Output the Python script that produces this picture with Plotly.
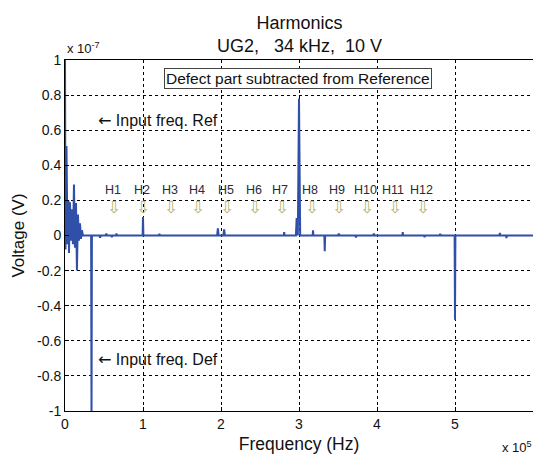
import plotly.graph_objects as go

# Spectrum samples: frequency (Hz) and voltage (in units of 1e-7 V)
freq_hz = [0, 640, 1900, 3200, 4500, 5100, 6400, 7700, 9000, 10200, 11500, 12800,
           14100, 15300, 16600, 17900, 19200, 20500, 21700, 23000,
           33500, 34000, 34500, 44000, 45000, 46000, 52000, 53000, 54000,
           59000, 60000, 61000, 65500, 66000, 66500,
           99500, 100000, 100500, 120000, 121000, 122000,
           195000, 196000, 197000, 203000, 204000, 205000,
           280500, 281000, 281500, 296000, 297000, 298500, 300000, 301500,
           317500, 318000, 318500, 332500, 333000, 333500,
           350000, 351000, 352000, 372000, 373000, 374000, 395000, 396000, 397000,
           432500, 433000, 433500, 460000, 461000, 462000, 480000, 481000, 482000,
           499500, 500000, 500500,
           557000, 557500, 558000, 565500, 566000, 566500, 600000]
volt_e7 = [1.05, -0.08, 0.51, -0.05, 0.20, -0.10, 0.19, -0.03, 0.15, -0.05, 0.29, -0.07,
           0.185, -0.20, 0.12, -0.03, 0.07, -0.02, 0.03, 0.0,
           0.0, -1.05, 0.0, 0.0, -0.012, 0.0, 0.0, 0.010, 0.0,
           0.0, -0.008, 0.0, 0.0, 0.012, 0.0,
           0.0, 0.105, 0.0, 0.0, 0.008, 0.0,
           0.0, 0.040, 0.0, 0.0, 0.035, 0.0,
           0.0, 0.020, 0.0, 0.0, 0.10, 0.0, 0.78, 0.0,
           0.0, 0.030, 0.0, 0.0, -0.09, 0.0,
           0.0, 0.010, 0.0, 0.0, -0.010, 0.0, 0.0, 0.010, 0.0,
           0.0, 0.020, 0.0, 0.0, -0.008, 0.0, 0.0, 0.008, 0.0,
           0.0, -0.48, 0.0,
           0.0, 0.015, 0.0, 0.0, -0.015, 0.0, 0.0]

x_ticks = [0, 1, 2, 3, 4, 5, 6]
x_ticklabels = ["0", "1", "2", "3", "4", "5", "6"]
y_ticks = [1, 0.8, 0.6, 0.4, 0.2, 0, -0.2, -0.4, -0.6, -0.8, -1]
y_ticklabels = ["1", "0.8", "0.6", "0.4", "0.2", "0", "-0.2", "-0.4", "-0.6", "-0.8", "-1"]

harm_labels = ["H1", "H2", "H3", "H4", "H5", "H6", "H7", "H8", "H9", "H10", "H11", "H12"]
harm_pos = [0.614, 0.985, 1.343, 1.688, 2.059, 2.417, 2.762, 3.146, 3.491, 3.849, 4.207, 4.565]

FONT = "Liberation Sans, Arial, sans-serif"
ARROWFONT = "DejaVu Sans"

x_scaled = [f / 1e5 for f in freq_hz]

fig = go.Figure()
fig.add_trace(go.Scatter(x=x_scaled, y=volt_e7, mode="lines",
                         line=dict(color="#2f4fa8", width=2), hoverinfo="skip",
                         showlegend=False))

annotations = []
for lab, xp in zip(harm_labels, harm_pos):
    annotations.append(dict(x=xp, y=0.26, xref="x", yref="y", text=lab, showarrow=False,
                            font=dict(family=FONT, size=12.5, color="#2a2a3a")))
    annotations.append(dict(x=xp + 0.02, y=0.165, xref="x", yref="y", text="\u21e9",
                            showarrow=False,
                            font=dict(family=ARROWFONT, size=17, color="#b8b46a")))

annotations += [
    dict(x=2.99, y=0.895, xref="x", yref="y",
         text="Defect part subtracted from Reference", showarrow=False,
         font=dict(family=FONT, size=15.5, color="#111"),
         bordercolor="#444", borderwidth=1, borderpad=1, bgcolor="white"),
    dict(x=0.4, y=0.655, xref="x", yref="y", xanchor="left",
         text="<span style='font-family:DejaVu Sans'>\u2190</span> Input freq. Ref",
         showarrow=False, font=dict(family=FONT, size=16, color="#111")),
    dict(x=0.4, y=-0.705, xref="x", yref="y", xanchor="left",
         text="<span style='font-family:DejaVu Sans'>\u2190</span> Input freq. Def",
         showarrow=False, font=dict(family=FONT, size=16, color="#111")),
    dict(x=0.0, y=1.0, xref="paper", yref="paper", xanchor="left", yanchor="bottom",
         yshift=2, text="x 10<sup>-7</sup>", showarrow=False,
         font=dict(family=FONT, size=13, color="#111")),
    dict(x=(500 - 65) / (533 - 65), y=-(447 - 411) / (411 - 60),
         xref="paper", yref="paper", showarrow=False,
         text="x 10<sup>5</sup>", font=dict(family=FONT, size=13, color="#111"),
         xanchor="left", yanchor="middle"),
]

fig.update_layout(
    width=533, height=459,
    margin=dict(l=65, r=0, t=60, b=48, autoexpand=False),
    paper_bgcolor="white", plot_bgcolor="white",
    font=dict(family=FONT, size=12, color="#111"),
    title=dict(text="Harmonics<br>UG2,\u00a0\u00a0 34 kHz,\u00a0 10 V",
               x=0.562, xanchor="center", y=0.937, yanchor="middle",
               font=dict(family=FONT, size=18, color="#111")),
    annotations=annotations,
    xaxis=dict(range=[0, 6], tickvals=x_ticks, ticktext=x_ticklabels, automargin=False,
               showgrid=True, gridcolor="black", griddash="3px,3px", gridwidth=1,
               zeroline=False, showline=True, linecolor="black", linewidth=1,
               mirror=True, ticks="inside", ticklen=4, tickcolor="black",
               tickfont=dict(family=FONT, size=14, color="#111"),
               title=dict(text="Frequency (Hz)", standoff=6,
                          font=dict(family=FONT, size=17.5, color="#111"))),
    yaxis=dict(range=[-1, 1], tickvals=y_ticks, ticktext=y_ticklabels, automargin=False,
               showgrid=True, gridcolor="black", griddash="3px,3px", gridwidth=1,
               zeroline=False, showline=True, linecolor="black", linewidth=1,
               mirror=True, ticks="inside", ticklen=4, tickcolor="black",
               tickfont=dict(family=FONT, size=14, color="#111"),
               title=dict(text="Voltage (V)", standoff=8,
                          font=dict(family=FONT, size=17, color="#111"))),
)

fig.write_html("out.html", config={"displayModeBar": False},
               post_script="document.body.style.margin='0';document.body.style.overflow='hidden';")
